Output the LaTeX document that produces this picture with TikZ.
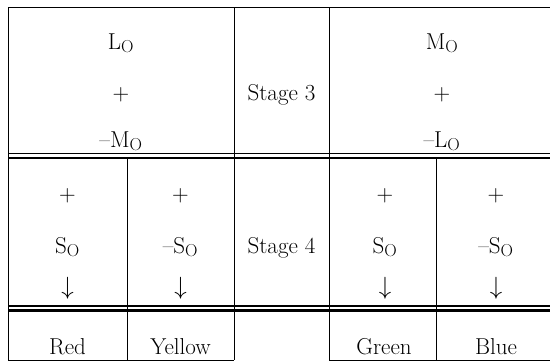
\documentclass[tikz,border=0pt]{standalone}
\begin{document}
\begin{tikzpicture}[x=1pt,y=-1pt,
  rule/.style={line width=1pt},
  thinrule/.style={line width=1.2pt},
  thickrule/.style={line width=2.2pt},
  cell/.style={anchor=base,inner sep=0pt,font=\fontsize{23}{27}\selectfont},
  arr/.style={anchor=center,inner sep=0pt,font=\fontsize{23}{27}\selectfont}]
\useasboundingbox (0,0) rectangle (550,362);
% frame and rules
\draw[rule] (8,7) -- (550,7);
\draw[rule] (8,7) -- (8,360);
\draw[rule] (234,7) -- (234,360);
\draw[rule] (329,7) -- (329,360);
\draw[rule] (127,158) -- (127,360);
\draw[rule] (436,158) -- (436,360);
\draw[thinrule] (8,153.3) -- (550,153.3);
\draw[thickrule] (8,158.3) -- (550,158.3);
\draw[thinrule] (8,306) -- (550,306);
\draw[thickrule] (8,310.5) -- (550,310.5);
\draw[rule] (8,360) -- (234,360);
\draw[rule] (329,360) -- (550,360);
% row 1
\node[cell] (l1) at (121,49) {L$_{\mathrm{O}}$};
\node[cell] (p1) at (121,100) {+};
\node[cell] (m1) at (121,147) {--M$_{\mathrm{O}}$};
\node[cell] (s3) at (281.5,100) {Stage 3};
\node[cell] (m2) at (442,49) {M$_{\mathrm{O}}$};
\node[cell] (p2) at (442,100) {+};
\node[cell] (l2) at (442,147) {--L$_{\mathrm{O}}$};
% row 2
\node[cell] (pa) at (67.5,201) {+};
\node[cell] (sa) at (67.5,253) {S$_{\mathrm{O}}$};
\node[arr] (da) at (67.5,288) {$\downarrow$};
\node[cell] (pb) at (180.5,201) {+};
\node[cell] (sb) at (180.5,253) {--S$_{\mathrm{O}}$};
\node[arr] (db) at (180.5,288) {$\downarrow$};
\node[cell] (s4) at (281.5,253) {Stage 4};
\node[cell] (pc) at (385,201) {+};
\node[cell] (sc) at (385,253) {S$_{\mathrm{O}}$};
\node[arr] (dc) at (385,288) {$\downarrow$};
\node[cell] (pd) at (496,201) {+};
\node[cell] (sd) at (496,253) {--S$_{\mathrm{O}}$};
\node[arr] (dd) at (496,288) {$\downarrow$};
% row 3
\node[cell] (red) at (67.5,354) {Red};
\node[cell] (yel) at (180.5,354) {Yellow};
\node[cell] (grn) at (384,354) {Green};
\node[cell] (blu) at (496,354) {Blue};
\end{tikzpicture}
\end{document}
